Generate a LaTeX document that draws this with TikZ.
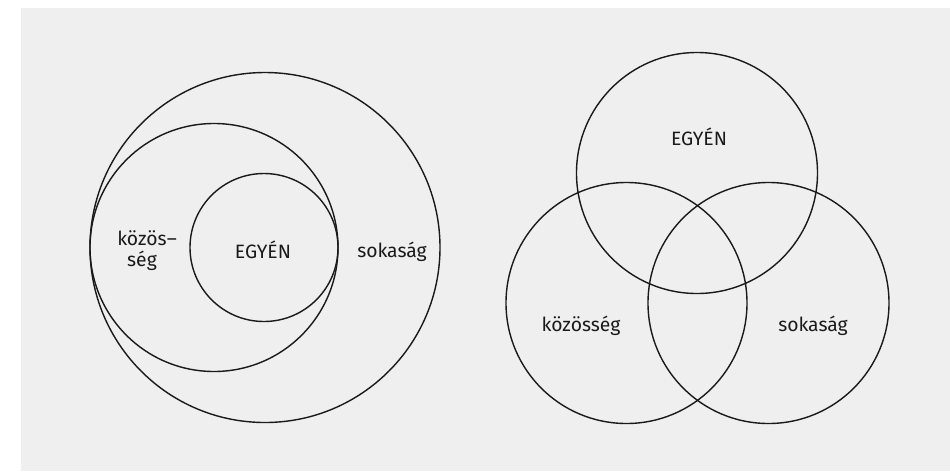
\documentclass[tikz,border=0pt]{standalone}
\usepackage{fontspec}
\setmainfont{Fira Sans}
\usepackage{tikz}
\usetikzlibrary{positioning}
\definecolor{panelgray}{HTML}{EFEFEF}
\definecolor{inkblack}{HTML}{1A1A1A}

\begin{document}
\begin{tikzpicture}[x=0.02cm, y=-0.02cm, font=\fontsize{11}{12}\selectfont,
    setline/.style={line width=0.8pt, draw=inkblack},
    setlabel/.style={text=inkblack, inner sep=0pt, align=center}]
    \useasboundingbox (0,0) rectangle (950,471);
    % Panel
    \fill[panelgray] (21,8) rectangle (950,471);

    % Nested sets
    \draw[setline] (265,247.5) circle (175);
    \draw[setline] (214,247.5) circle (124);
    \draw[setline] (264,247.5) circle (74);
    \node[setlabel] (egyenA) at (263,250) {EGYÉN};
    \node[setlabel] (kozossegA) at (142,251) {közös\rlap{--}\\ség};
    \node[setlabel] (sokasagA) at (392,252) {sokaság};

    % Overlapping sets
    \draw[setline] (697,173) circle (120.5);
    \draw[setline] (626.5,303) circle (120.5);
    \draw[setline] (768.5,303) circle (120.5);
    \node[setlabel] (egyenB) at (699,137) {EGYÉN};
    \node[setlabel] (kozossegB) at (581,326) {közösség};
    \node[setlabel] (sokasagB) at (813,326) {sokaság};
\end{tikzpicture}
\end{document}
